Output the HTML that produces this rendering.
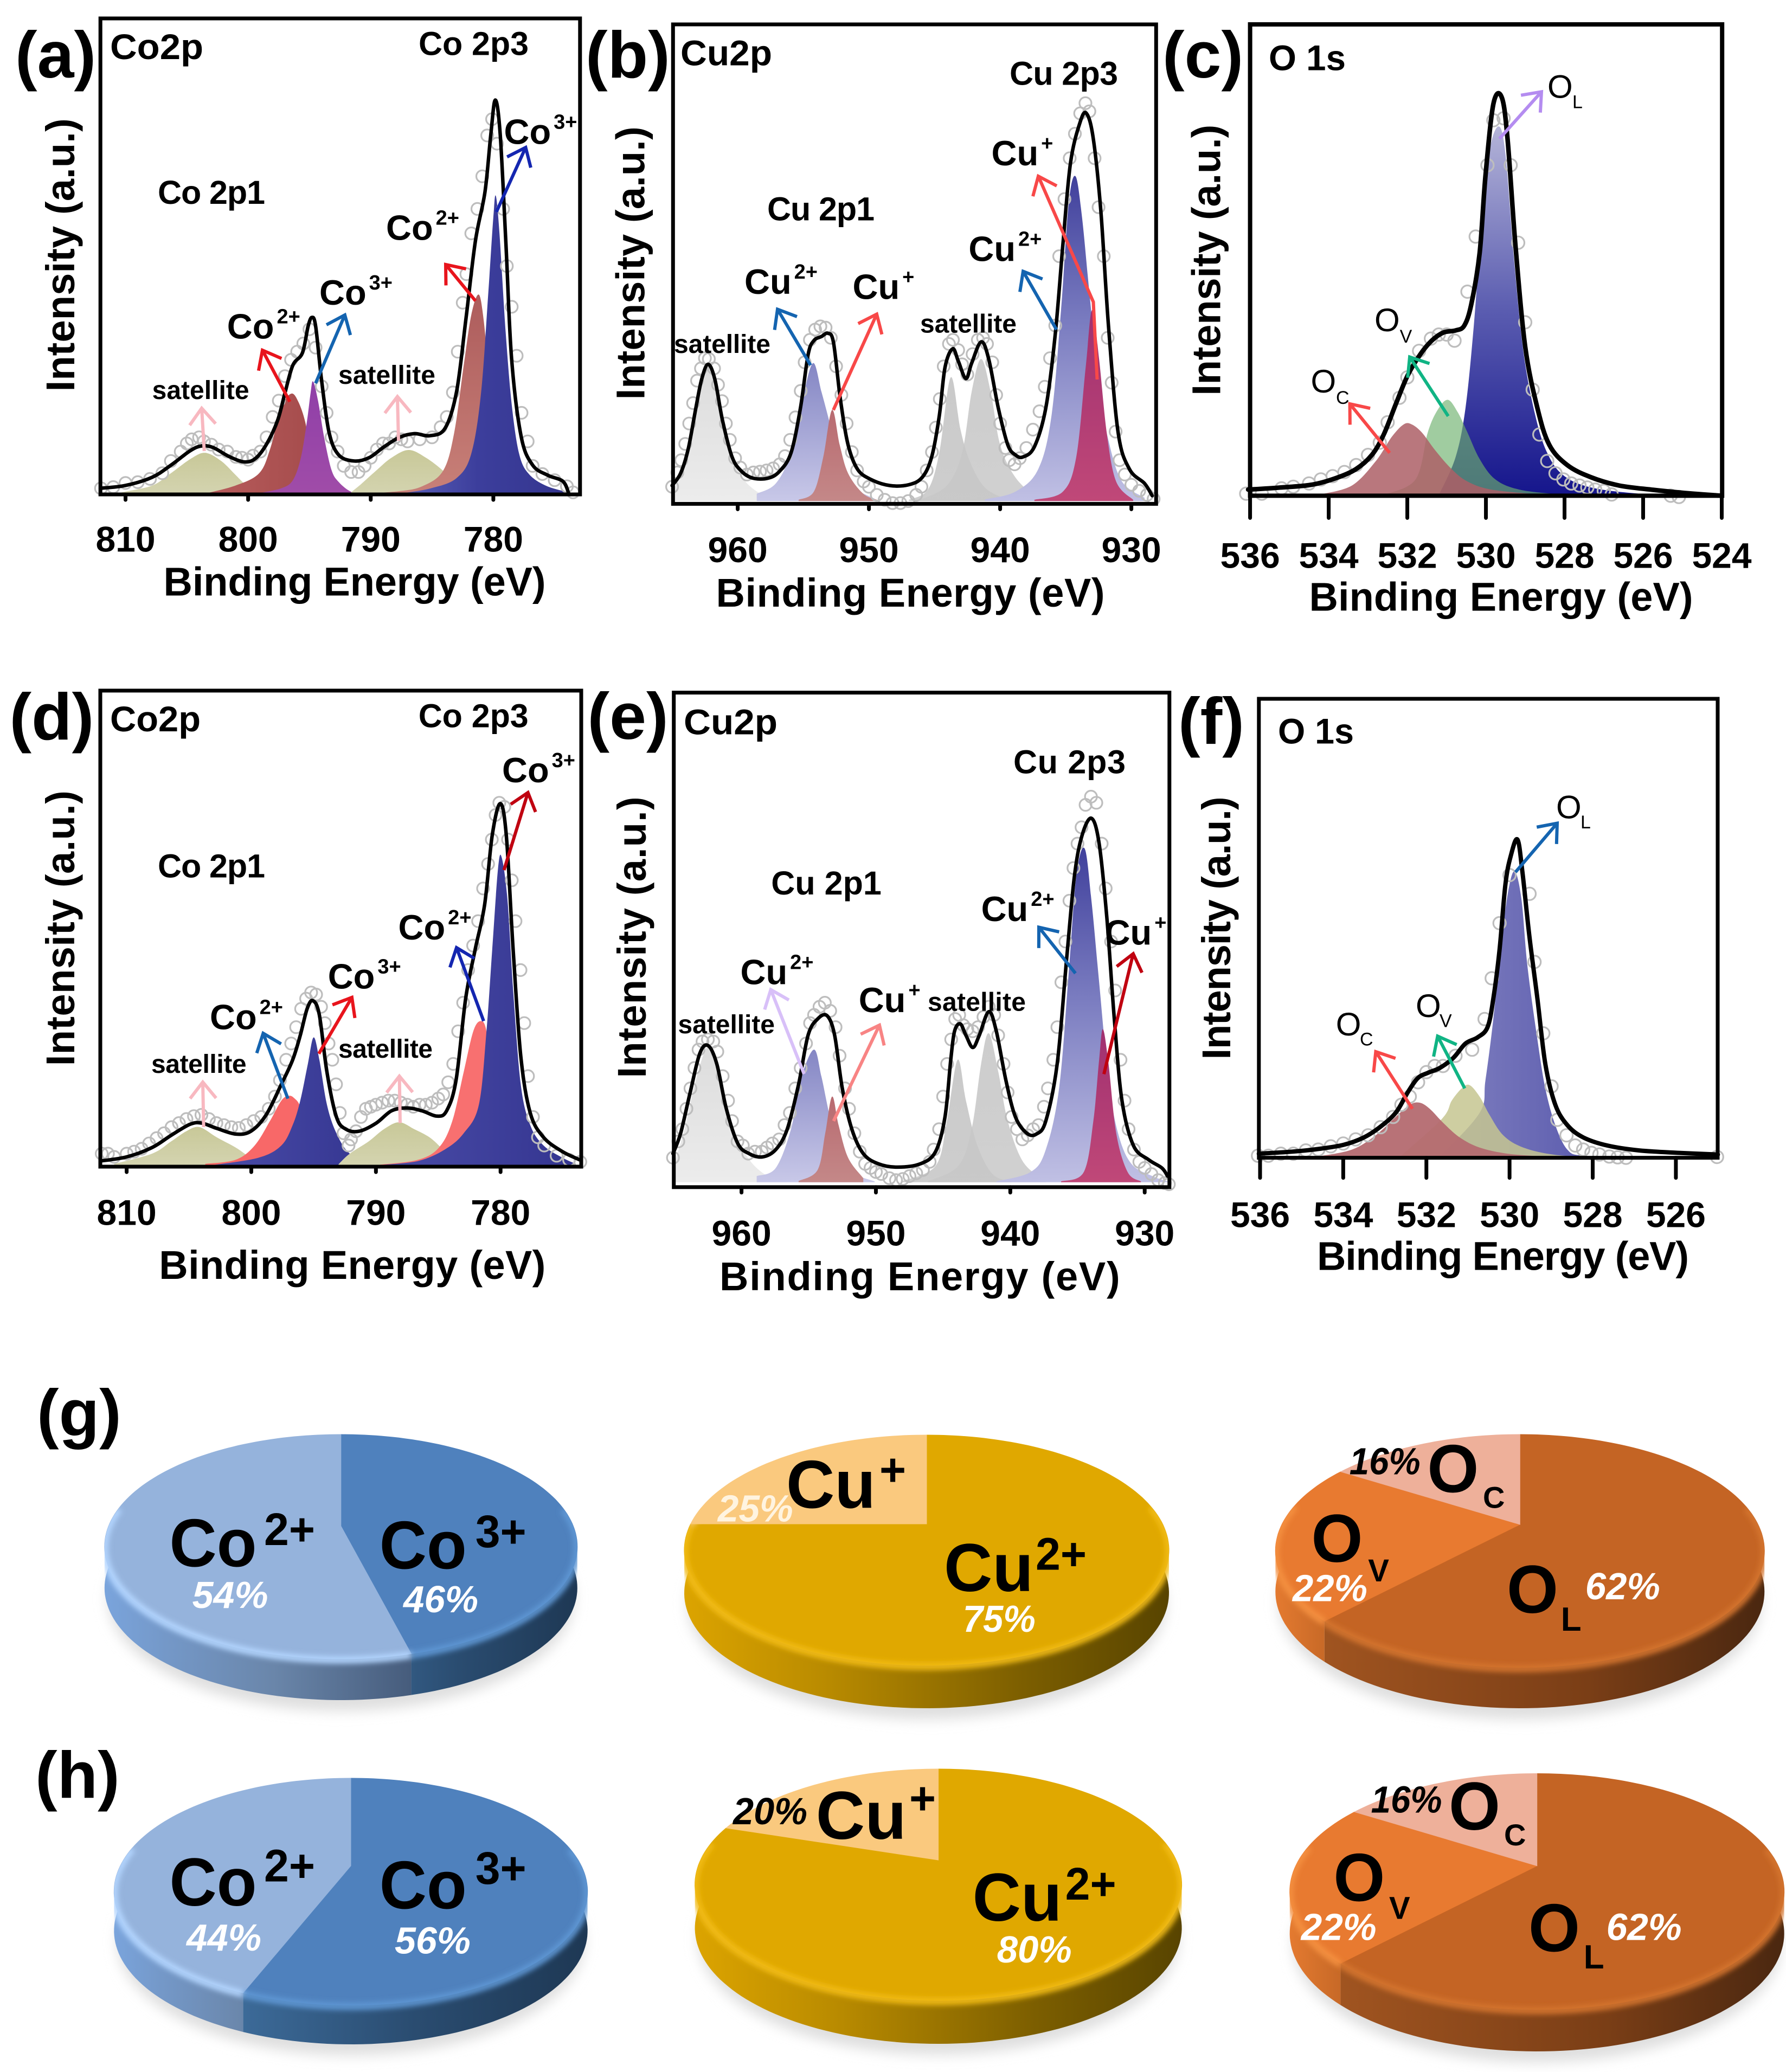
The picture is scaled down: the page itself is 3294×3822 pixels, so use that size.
<!DOCTYPE html>
<html lang="en"><head><meta charset="utf-8"><title>XPS spectra and composition pies</title>
<style>
html,body{margin:0;padding:0;background:#fff}
svg{display:block}
text{font-family:"Liberation Sans",Arial,sans-serif;font-weight:700;fill:#000}
.let{font-size:122px}
.ttl{font-size:66px}
.sub{font-size:61px}
.ion{font-size:65px}
.sat{font-size:48px}
.xt{font-size:74px;text-anchor:middle}
.yt{font-size:74px;text-anchor:middle}
.tk{font-size:66px;text-anchor:middle}
.oxy{font-size:60px;font-weight:400}
.oxs{font-size:34px;font-weight:400}
.pl{font-size:125px}
.ps{font-size:84px}
.pct{font-size:70px;font-style:italic;fill:#fff}
.pctk{font-size:70px;font-style:italic;fill:#000}
.frame{fill:none;stroke:#000;stroke-width:7}
.arr{fill:none;stroke-width:6}
</style></head><body>
<svg id="fig" xmlns="http://www.w3.org/2000/svg" width="3294" height="3822" viewBox="0 0 3294 3822">
<defs>
<marker id="mNavy" markerUnits="userSpaceOnUse" markerWidth="80" markerHeight="80" viewBox="-50 -40 80 80" refX="0" refY="0" orient="auto" overflow="visible"><path d="M-30,-24L0,0L-30,24" fill="none" stroke="#1426b0" stroke-width="6"/></marker>
<marker id="mRed" markerUnits="userSpaceOnUse" markerWidth="80" markerHeight="80" viewBox="-50 -40 80 80" refX="0" refY="0" orient="auto" overflow="visible"><path d="M-30,-24L0,0L-30,24" fill="none" stroke="#e8141c" stroke-width="6"/></marker>
<marker id="mBlue" markerUnits="userSpaceOnUse" markerWidth="80" markerHeight="80" viewBox="-50 -40 80 80" refX="0" refY="0" orient="auto" overflow="visible"><path d="M-30,-24L0,0L-30,24" fill="none" stroke="#1464b0" stroke-width="6"/></marker>
<marker id="mPink" markerUnits="userSpaceOnUse" markerWidth="80" markerHeight="80" viewBox="-50 -40 80 80" refX="0" refY="0" orient="auto" overflow="visible"><path d="M-30,-24L0,0L-30,24" fill="none" stroke="#f8b8c0" stroke-width="6"/></marker>
<marker id="mCoral" markerUnits="userSpaceOnUse" markerWidth="80" markerHeight="80" viewBox="-50 -40 80 80" refX="0" refY="0" orient="auto" overflow="visible"><path d="M-30,-24L0,0L-30,24" fill="none" stroke="#f84848" stroke-width="6"/></marker>
<marker id="mPurple" markerUnits="userSpaceOnUse" markerWidth="80" markerHeight="80" viewBox="-50 -40 80 80" refX="0" refY="0" orient="auto" overflow="visible"><path d="M-30,-24L0,0L-30,24" fill="none" stroke="#b48cf0" stroke-width="6"/></marker>
<marker id="mGreen" markerUnits="userSpaceOnUse" markerWidth="80" markerHeight="80" viewBox="-50 -40 80 80" refX="0" refY="0" orient="auto" overflow="visible"><path d="M-30,-24L0,0L-30,24" fill="none" stroke="#10b484" stroke-width="6"/></marker>
<marker id="mLilac" markerUnits="userSpaceOnUse" markerWidth="80" markerHeight="80" viewBox="-50 -40 80 80" refX="0" refY="0" orient="auto" overflow="visible"><path d="M-30,-24L0,0L-30,24" fill="none" stroke="#d8c0f8" stroke-width="6"/></marker>
<marker id="mSalmon" markerUnits="userSpaceOnUse" markerWidth="80" markerHeight="80" viewBox="-50 -40 80 80" refX="0" refY="0" orient="auto" overflow="visible"><path d="M-30,-24L0,0L-30,24" fill="none" stroke="#f88484" stroke-width="6"/></marker>
<marker id="mDark" markerUnits="userSpaceOnUse" markerWidth="80" markerHeight="80" viewBox="-50 -40 80 80" refX="0" refY="0" orient="auto" overflow="visible"><path d="M-30,-24L0,0L-30,24" fill="none" stroke="#c00010" stroke-width="6"/></marker>

<linearGradient id="gOlive" x1="0" y1="0" x2="0" y2="1"><stop offset="0" stop-color="#c8c898"/><stop offset="1" stop-color="#d4d4b0"/></linearGradient>
<linearGradient id="gBrown" x1="0" y1="0" x2="1" y2="0"><stop offset="0" stop-color="#b85c5c"/><stop offset="1" stop-color="#a04848"/></linearGradient>
<linearGradient id="gPurple" x1="0" y1="0" x2="0" y2="1"><stop offset="0" stop-color="#8f3fa8"/><stop offset="1" stop-color="#a04ca8"/></linearGradient>
<linearGradient id="gBrown2" x1="0" y1="0" x2="0" y2="1"><stop offset="0" stop-color="#ad5c5c"/><stop offset="1" stop-color="#c88078"/></linearGradient>
<linearGradient id="gBlue" x1="0" y1="0" x2="1" y2="0"><stop offset="0" stop-color="#5c60b8"/><stop offset=".45" stop-color="#3c3e9c"/><stop offset="1" stop-color="#34358e"/></linearGradient>
<linearGradient id="gGrayL" x1="0" y1="0" x2="0" y2="1"><stop offset="0" stop-color="#dcdcdc"/><stop offset="1" stop-color="#ececec"/></linearGradient>
<linearGradient id="gGray" x1="0" y1="0" x2="0" y2="1"><stop offset="0" stop-color="#c4c4c4"/><stop offset="1" stop-color="#c8c8c8"/></linearGradient>
<linearGradient id="gLav" x1="0" y1="0" x2="0" y2="1"><stop offset="0" stop-color="#8486c4"/><stop offset="1" stop-color="#c8c8e8"/></linearGradient>
<linearGradient id="gRose" x1="0" y1="0" x2="0" y2="1"><stop offset="0" stop-color="#b86a70"/><stop offset="1" stop-color="#c48888"/></linearGradient>
<linearGradient id="gLavDeep" x1="0" y1="0" x2="0" y2="1"><stop offset="0" stop-color="#40409c"/><stop offset=".45" stop-color="#7a7cc0"/><stop offset="1" stop-color="#c0c0e4"/></linearGradient>
<linearGradient id="gMagenta" x1="0" y1="0" x2="0" y2="1"><stop offset="0" stop-color="#a03070"/><stop offset="1" stop-color="#c04878"/></linearGradient>
<linearGradient id="gOLc" x1="0" y1="0" x2="0" y2="1"><stop offset="0" stop-color="#b4b4d8"/><stop offset=".5" stop-color="#5a5cb0"/><stop offset="1" stop-color="#15158c"/></linearGradient>
<linearGradient id="gOLf" x1="0" y1="0" x2="1" y2="0"><stop offset="0" stop-color="#8080c0"/><stop offset="1" stop-color="#4040a0"/></linearGradient>
<linearGradient id="gNavy" x1="0" y1="0" x2="1" y2="0"><stop offset="0" stop-color="#4a4ca8"/><stop offset="1" stop-color="#343590"/></linearGradient>

<linearGradient id="sideBlueLight" x1="0" y1="0" x2="1" y2="0"><stop offset="0" stop-color="#7aa4dc"/><stop offset=".2" stop-color="#7498c8"/><stop offset=".55" stop-color="#6a86aa"/><stop offset="1" stop-color="#465c7c"/></linearGradient>
<linearGradient id="sideBlueDark" x1="0" y1="0" x2="1" y2="0"><stop offset="0" stop-color="#3c6a98"/><stop offset=".5" stop-color="#2a4c70"/><stop offset="1" stop-color="#1e3854"/></linearGradient>
<linearGradient id="sideGold" x1="0" y1="0" x2="1" y2="0"><stop offset="0" stop-color="#dca400"/><stop offset=".3" stop-color="#b88a00"/><stop offset=".7" stop-color="#7c5e00"/><stop offset="1" stop-color="#584400"/></linearGradient>
<linearGradient id="sideCopper" x1="0" y1="0" x2="1" y2="0"><stop offset="0" stop-color="#a05420"/><stop offset=".6" stop-color="#7a3e16"/><stop offset="1" stop-color="#4a2710"/></linearGradient>
<linearGradient id="sideOrange" x1="0" y1="0" x2="1" y2="0"><stop offset="0" stop-color="#e47a30"/><stop offset="1" stop-color="#bf6424"/></linearGradient>
<linearGradient id="sideNone" x1="0" y1="0" x2="1" y2="0"><stop offset="0" stop-color="#eeb09a"/><stop offset="1" stop-color="#eeb09a"/></linearGradient>
<filter id="soft" x="-30%" y="-30%" width="160%" height="160%"><feGaussianBlur stdDeviation="5"/></filter>
<filter id="shadowBlur" x="-20%" y="-20%" width="140%" height="140%"><feGaussianBlur stdDeviation="12"/></filter>
</defs>

<rect width="3294" height="3822" fill="#fff"/>

<!-- PANEL A -->
<g>
<g id="marks-a"></g>
<rect class="frame" x="185.2" y="34" width="884.6" height="878"/>
<text class="let" x="28" y="143">(a)</text>
<text class="ttl" x="203" y="109" textLength="172" lengthAdjust="spacingAndGlyphs">Co2p</text>
<text class="sub" x="772" y="101.6" textLength="203">Co 2p3</text>
<text class="sub" x="291" y="376" textLength="198">Co 2p1</text>
<text class="ion" x="418.8" y="624.6">Co<tspan dx="5" dy="-28" font-size="38">2+</tspan></text>
<text class="ion" x="589" y="562">Co<tspan dx="5" dy="-28" font-size="38">3+</tspan></text>
<text class="ion" x="712" y="442.5">Co<tspan dx="5" dy="-28" font-size="38">2+</tspan></text>
<text class="ion" x="929.5" y="265.6">Co<tspan dx="5" dy="-28" font-size="38">3+</tspan></text>
<text class="sat" x="280.6" y="736" textLength="179">satellite</text>
<text class="sat" x="624" y="708" textLength="179">satellite</text>
<path class="arr" stroke="#1426b0" marker-end="url(#mNavy)" d="M915.5,391L969.5,272"/>
<path class="arr" stroke="#e8141c" marker-end="url(#mRed)" d="M877,555L822,488"/>
<path class="arr" stroke="#1464b0" marker-end="url(#mBlue)" d="M582,707L636,581"/>
<path class="arr" stroke="#e8141c" marker-end="url(#mRed)" d="M534.5,741L484,646"/>
<path class="arr" stroke="#f8b8c0" marker-end="url(#mPink)" d="M376.7,832L372,753"/>
<path class="arr" stroke="#f8b8c0" marker-end="url(#mPink)" d="M735,813L733,731.5"/>
<text class="xt" x="654" y="1098.7" textLength="705">Binding Energy (eV)</text>
<text class="yt" transform="translate(137,470.4) rotate(-90)" textLength="504">Intensity (a.u.)</text>
</g>

<!-- PANEL B -->
<g>
<g id="marks-b"></g>
<rect class="frame" x="1241.3" y="45" width="891" height="884.4"/>
<text class="let" x="1080" y="143">(b)</text>
<text class="ttl" x="1255" y="120.4" textLength="169" lengthAdjust="spacingAndGlyphs">Cu2p</text>
<text class="sub" x="1862" y="156.5" textLength="200">Cu 2p3</text>
<text class="sub" x="1415" y="406.4" textLength="198">Cu 2p1</text>
<text class="ion" x="1373" y="541.8">Cu<tspan dx="5" dy="-28" font-size="38">2+</tspan></text>
<text class="ion" x="1572.5" y="551.6">Cu<tspan dx="5" dy="-28" font-size="38">+</tspan></text>
<text class="ion" x="1828.5" y="304.8">Cu<tspan dx="5" dy="-28" font-size="38">+</tspan></text>
<text class="ion" x="1786.4" y="481.6">Cu<tspan dx="5" dy="-28" font-size="38">2+</tspan></text>
<text class="sat" x="1243" y="651" textLength="178">satellite</text>
<text class="sat" x="1697" y="613.4" textLength="178">satellite</text>
<path class="arr" stroke="#1464b0" marker-end="url(#mBlue)" d="M1495,673.6L1434,570.5"/>
<path class="arr" stroke="#f84848" marker-end="url(#mCoral)" d="M1537,756.3L1617,579.5"/>
<path class="arr" stroke="#1464b0" marker-end="url(#mBlue)" d="M1948.5,608L1887,500.5"/>
<path class="arr" stroke="#f84848" marker-end="url(#mCoral)" d="M2023.5,700L2016.5,557L1915,325"/>
<text class="xt" x="1679" y="1119" textLength="717">Binding Energy (eV)</text>
<text class="yt" transform="translate(1188.7,485.4) rotate(-90)" textLength="504">Intensity (a.u.)</text>
</g>

<!-- PANEL C -->
<g>
<g id="marks-c"></g>
<rect class="frame" style="stroke-width:8" x="2305.6" y="45" width="870.6" height="869.4"/>
<text class="let" x="2144" y="143">(c)</text>
<text class="ttl" x="2340" y="129.4" textLength="142" lengthAdjust="spacingAndGlyphs">O 1s</text>
<text class="oxy" x="2854" y="180.6">O</text><text class="oxs" x="2900" y="199.4">L</text>
<text class="oxy" x="2535" y="611">O</text><text class="oxs" x="2581.6" y="632">V</text>
<text class="oxy" x="2417.5" y="724">O</text><text class="oxs" x="2464" y="745">C</text>
<path class="arr" stroke="#b48cf0" marker-end="url(#mPurple)" d="M2765.5,255.9L2843,169.3"/>
<path class="arr" stroke="#10b484" marker-end="url(#mGreen)" d="M2671,767.6L2600,658.5"/>
<path class="arr" stroke="#f84848" marker-end="url(#mCoral)" d="M2563,835.4L2489.6,745"/>
<text class="xt" x="2768.5" y="1126.6" textLength="708">Binding Energy (eV)</text>
<text class="yt" transform="translate(2250.4,479.8) rotate(-90)" textLength="500">Intensity (a.u.)</text>
</g>

<!-- PANEL D -->
<g>
<g id="marks-d"></g>
<rect class="frame" x="185" y="1273.9" width="887" height="878.1"/>
<text class="let" x="17.5" y="1364">(d)</text>
<text class="ttl" x="203" y="1349" textLength="167" lengthAdjust="spacingAndGlyphs">Co2p</text>
<text class="sub" x="771.7" y="1341.6" textLength="203">Co 2p3</text>
<text class="sub" x="291" y="1618.5" textLength="198">Co 2p1</text>
<text class="ion" x="387" y="1898.5">Co<tspan dx="5" dy="-28" font-size="38">2+</tspan></text>
<text class="ion" x="604.7" y="1823.3">Co<tspan dx="5" dy="-28" font-size="38">3+</tspan></text>
<text class="ion" x="734.5" y="1733">Co<tspan dx="5" dy="-28" font-size="38">2+</tspan></text>
<text class="ion" x="926" y="1443.2">Co<tspan dx="5" dy="-28" font-size="38">3+</tspan></text>
<text class="sat" x="279" y="1979" textLength="175.6">satellite</text>
<text class="sat" x="624" y="1951" textLength="174">satellite</text>
<path class="arr" stroke="#c00010" marker-end="url(#mDark)" d="M929.5,1605L973.7,1462"/>
<path class="arr" stroke="#e8141c" marker-end="url(#mRed)" d="M588,1943.7L649,1839.8"/>
<path class="arr" stroke="#1426b0" marker-end="url(#mNavy)" d="M892,1883.4L842,1748"/>
<path class="arr" stroke="#1464b0" marker-end="url(#mBlue)" d="M531,2026.5L485.4,1906"/>
<path class="arr" stroke="#f8b8c0" marker-end="url(#mPink)" d="M375.6,2079L374,1996"/>
<path class="arr" stroke="#f8b8c0" marker-end="url(#mPink)" d="M738,2071.6L736.6,1985"/>
<text class="xt" x="649.8" y="2359" textLength="713">Binding Energy (eV)</text>
<text class="yt" transform="translate(137,1712.2) rotate(-90)" textLength="508">Intensity (a.u.)</text>
</g>

<!-- PANEL E -->
<g>
<g id="marks-e"></g>
<rect class="frame" x="1242.7" y="1277.6" width="914.1" height="912.2"/>
<text class="let" x="1083.5" y="1363">(e)</text>
<text class="ttl" x="1261" y="1354.4" textLength="173" lengthAdjust="spacingAndGlyphs">Cu2p</text>
<text class="sub" x="1869" y="1426.6" textLength="207">Cu 2p3</text>
<text class="sub" x="1422.3" y="1650" textLength="203.5">Cu 2p1</text>
<text class="ion" x="1365.5" y="1815.7">Cu<tspan dx="5" dy="-28" font-size="38">2+</tspan></text>
<text class="ion" x="1583.7" y="1867">Cu<tspan dx="5" dy="-28" font-size="38">+</tspan></text>
<text class="ion" x="1809.6" y="1699">Cu<tspan dx="5" dy="-28" font-size="38">2+</tspan></text>
<text class="ion" x="2037.6" y="1742.7">Cu<tspan dx="5" dy="-28" font-size="38">+</tspan></text>
<text class="sat" x="1250.5" y="1906" textLength="178.5">satellite</text>
<text class="sat" x="1711" y="1864.7" textLength="181">satellite</text>
<path class="arr" stroke="#d8c0f8" marker-end="url(#mLilac)" d="M1483,1981L1421.6,1825.5"/>
<path class="arr" stroke="#f88484" marker-end="url(#mSalmon)" d="M1537.4,2067.8L1622,1891"/>
<path class="arr" stroke="#1464b0" marker-end="url(#mBlue)" d="M1983.5,1795.4L1916,1710.4"/>
<path class="arr" stroke="#c00010" marker-end="url(#mDark)" d="M2036,1981.3L2090,1759.3"/>
<text class="xt" x="1696.3" y="2380" textLength="738.6">Binding Energy (eV)</text>
<text class="yt" transform="translate(1190.8,1729) rotate(-90)" textLength="519">Intensity (a.u.)</text>
</g>

<!-- PANEL F -->
<g>
<g id="marks-f"></g>
<rect class="frame" x="2321.8" y="1289" width="846.2" height="846.6"/>
<text class="let" x="2173" y="1372">(f)</text>
<text class="ttl" x="2357" y="1371.7" textLength="140" lengthAdjust="spacingAndGlyphs">O 1s</text>
<text class="oxy" x="2870" y="1509.4">O</text><text class="oxs" x="2915" y="1528.2">L</text>
<text class="oxy" x="2611" y="1876">O</text><text class="oxs" x="2655" y="1894.7">V</text>
<text class="oxy" x="2463.8" y="1909.8">O</text><text class="oxs" x="2508" y="1928.6">C</text>
<path class="arr" stroke="#1464b0" marker-end="url(#mBlue)" d="M2795,1608.8L2872,1518.5"/>
<path class="arr" stroke="#10b484" marker-end="url(#mGreen)" d="M2701.5,2007.6L2651.5,1911.3"/>
<path class="arr" stroke="#f84848" marker-end="url(#mCoral)" d="M2605,2045.3L2537.4,1939.9"/>
<text class="xt" x="2772" y="2342.5" textLength="686">Binding Energy (eV)</text>
<text class="yt" transform="translate(2268.8,1712) rotate(-90)" textLength="485">Intensity (a.u.)</text>
</g>

<!-- PIES -->
<g id="pies"></g>
<g>
<text class="let" x="68" y="2648">(g)</text>
<text class="let" x="65" y="3316">(h)</text>

<text class="pl" x="312.5" y="2889.5" textLength="161" lengthAdjust="spacingAndGlyphs">Co</text><text class="ps" x="487" y="2850" textLength="94" lengthAdjust="spacingAndGlyphs">2+</text>
<text class="pct" x="354.6" y="2966" textLength="140" lengthAdjust="spacingAndGlyphs">54%</text>
<text class="pl" x="699.8" y="2893.7" textLength="161" lengthAdjust="spacingAndGlyphs">Co</text><text class="ps" x="876.7" y="2853.8" textLength="94" lengthAdjust="spacingAndGlyphs">3+</text>
<text class="pct" x="744" y="2974" textLength="138" lengthAdjust="spacingAndGlyphs">46%</text>

<text class="pl" x="1450" y="2781.6" textLength="165" lengthAdjust="spacingAndGlyphs">Cu</text><text class="ps" x="1622" y="2740">+</text>
<text class="pct" style="fill:#fff4e0" x="1323.8" y="2806.5" textLength="139" lengthAdjust="spacingAndGlyphs">25%</text>
<text class="pl" x="1741" y="2935" textLength="165" lengthAdjust="spacingAndGlyphs">Cu</text><text class="ps" x="1910" y="2895.3" textLength="94" lengthAdjust="spacingAndGlyphs">2+</text>
<text class="pct" x="1775.8" y="3010" textLength="134" lengthAdjust="spacingAndGlyphs">75%</text>

<text class="pl" x="2632.4" y="2752.5" textLength="95" lengthAdjust="spacingAndGlyphs">O</text><text font-size="56" x="2735" y="2781.6">C</text>
<text class="pctk" x="2488.7" y="2719.3" textLength="131" lengthAdjust="spacingAndGlyphs">16%</text>
<text class="pl" x="2418.5" y="2881.2" textLength="95" lengthAdjust="spacingAndGlyphs">O</text><text font-size="58" x="2523.3" y="2916.9">V</text>
<text class="pct" x="2383.9" y="2953.5" textLength="138" lengthAdjust="spacingAndGlyphs">22%</text>
<text class="pl" x="2779" y="2975" textLength="95" lengthAdjust="spacingAndGlyphs">O</text><text font-size="62" x="2878.8" y="3008">L</text>
<text class="pct" x="2923.8" y="2950" textLength="138" lengthAdjust="spacingAndGlyphs">62%</text>

<text class="pl" x="312.5" y="3514.8" textLength="161" lengthAdjust="spacingAndGlyphs">Co</text><text class="ps" x="487" y="3470.7" textLength="94" lengthAdjust="spacingAndGlyphs">2+</text>
<text class="pct" x="344" y="3597.8" textLength="138" lengthAdjust="spacingAndGlyphs">44%</text>
<text class="pl" x="699.8" y="3520.6" textLength="161" lengthAdjust="spacingAndGlyphs">Co</text><text class="ps" x="876.7" y="3475" textLength="94" lengthAdjust="spacingAndGlyphs">3+</text>
<text class="pct" x="728" y="3603.6" textLength="140" lengthAdjust="spacingAndGlyphs">56%</text>

<text class="pl" x="1504.8" y="3391.9" textLength="167" lengthAdjust="spacingAndGlyphs">Cu</text><text class="ps" x="1677" y="3346">+</text>
<text class="pctk" x="1352" y="3365" textLength="137" lengthAdjust="spacingAndGlyphs">20%</text>
<text class="pl" x="1793.6" y="3543" textLength="165" lengthAdjust="spacingAndGlyphs">Cu</text><text class="ps" x="1964.6" y="3504" textLength="94" lengthAdjust="spacingAndGlyphs">2+</text>
<text class="pct" x="1838.7" y="3620" textLength="138" lengthAdjust="spacingAndGlyphs">80%</text>

<text class="pl" x="2672" y="3375" textLength="95" lengthAdjust="spacingAndGlyphs">O</text><text font-size="56" x="2774" y="3404">C</text>
<text class="pctk" x="2528.6" y="3343.7" textLength="131" lengthAdjust="spacingAndGlyphs">16%</text>
<text class="pl" x="2459.4" y="3506.5" textLength="95" lengthAdjust="spacingAndGlyphs">O</text><text font-size="58" x="2562" y="3539.7">V</text>
<text class="pct" x="2399.6" y="3578.7" textLength="139" lengthAdjust="spacingAndGlyphs">22%</text>
<text class="pl" x="2819" y="3599.5" textLength="95" lengthAdjust="spacingAndGlyphs">O</text><text font-size="62" x="2920.7" y="3631">L</text>
<text class="pct" x="2962.6" y="3578.7" textLength="139" lengthAdjust="spacingAndGlyphs">62%</text>
</g>
</svg>

<script>
/* ---------- tick labels ---------- */
const aTicks=[810,800,790,780];
const bTicks=[960,950,940,930];
const cTicks=[536,534,532,530,528,526,524];
const dTicks=[810,800,790,780];
const eTicks=[960,950,940,930];
const fTicks=[536,534,532,530,528,526];

/* ---------- panel a: [binding energy eV, intensity a.u.] ---------- */
const aFit=[[812.05,15],[810,22],[807.83,42],[806.28,72],[804.73,107],[803.79,119],[802.86,115],[801.62,94],[800.38,80],[799.45,87],[798.52,122],[797.59,182],[796.97,252],[796.35,317],[795.57,347],[795.11,412],[794.8,434],[794.49,412],[794.02,282],[793.4,152],[792.62,97],[791.38,82],[790.14,90],[788.9,117],[787.66,140],[786.42,149],[785.18,144],[783.94,162],[783,252],[782.23,432],[781.46,622],[780.68,742],[780.21,882],[779.84,967],[779.44,882],[778.97,612],[778.51,332],[777.73,142],[776.8,72],[775.56,47],[774.32,32],[773.85,2]];
const aSat1=[[810.9,2],[810,7],[807.8,22],[806.3,52],[804.7,87],[803.5,102],[802.2,82],[801,47],[800.1,22],[798.8,5]];
const aCo2Low=[[803.5,2],[801,22],[799.1,52],[798.2,112],[797.3,212],[796.5,247],[795.9,227],[795.3,172],[795,100],[794.5,60],[793.6,20],[792.3,3]];
const aCo3Low=[[799.1,3],[797.3,15],[796.35,35],[795.7,90],[795.2,180],[794.9,250],[794.7,277],[794.3,230],[793.8,140],[793.2,60],[792.6,30],[791.7,8],[790.8,0]];
const aSat2=[[791.7,3],[790.8,25],[789.5,60],[788.3,90],[786.9,109],[785.5,90],[784.1,58],[783,25],[781.1,3]];
const aCo2High=[[790.8,1],[787.7,8],[785.8,20],[784.1,58],[783.2,150],[782.4,320],[781.8,440],[781.2,490],[780.8,430],[780.4,300],[779.9,120],[779,40],[776.8,5]];
const aCo3High=[[787.7,2],[785.1,15],[783,40],[781.8,100],[781,250],[780.4,500],[780,680],[779.8,732],[779.5,640],[779,400],[778.5,220],[777.9,100],[777.1,50],[775.6,20],[773.4,2]];
const aRaw=[[812,15],[811,18],[810,28],[809,30],[808,38],[807,52],[806.3,82],[805.5,105],[805,125],[804.6,135],[804,140],[803.6,130],[803,122],[802.4,110],[801.7,105],[801,92],[800.5,90],[800,85],[799.6,95],[799,105],[798.5,140],[798,190],[797.5,230],[797,290],[796.5,330],[796,350],[795.5,370],[795,405],[794.5,360],[794,265],[793.6,200],[793.2,140],[792.7,105],[792.2,70],[791.6,55],[791,55],[790.5,70],[790,90],[789.5,110],[789,125],[788.5,125],[788,140],[787.5,135],[787,130],[786,135],[785,140],[784.3,165],[783.8,190],[783.3,250],[782.9,350],[782.5,470],[782.2,540],[781.8,640],[781.3,700],[780.9,780],[780.5,880],[780.1,920],[779.7,860],[779.2,700],[778.9,560],[778.5,460],[778.1,340],[777.7,200],[777.2,130],[776.8,70],[776,50],[775,35],[774,20],[773.5,5]];

/* ---------- panel b ---------- */
const bFit=[[965,38],[964.35,68],[963.77,128],[963.19,228],[962.75,298],[962.26,335],[961.74,298],[961.16,198],[960.43,108],[959.71,73],[958.84,56],[957.68,56],[956.81,73],[955.94,118],[955.22,228],[954.64,358],[954.2,393],[953.62,403],[953.13,411],[952.7,388],[952.17,248],[951.59,138],[950.87,78],[949.86,53],[948.41,38],[946.96,40],[945.94,58],[945.22,108],[944.64,208],[944.2,328],[943.62,373],[943.19,343],[942.61,300],[942.17,338],[941.45,390],[940.87,348],[940.14,228],[939.42,138],[938.84,113],[938.26,108],[937.39,133],[936.52,228],[935.8,408],[935.22,628],[934.64,828],[933.91,928],[933.42,950],[932.9,888],[932.32,708],[931.74,428],[931.01,168],[930.14,78],[928.99,43],[928.41,13]];
const bSat1=[[965,20],[964.87,28],[964.06,98],[963.19,228],[962.26,333],[961.3,208],[960.43,108],[959.42,48],[957.97,13],[956.52,2]];
const bCu2Low=[[958.55,18],[957.1,43],[955.94,118],[955.07,248],[954.26,338],[953.62,268],[953.04,198],[952.32,108],[951.3,38],[949.57,6]];
const bCu1Low=[[955.36,3],[954.2,23],[953.48,108],[952.81,223],[952.23,138],[951.59,68],[950.43,18],[949.28,2]];
const bSat2=[[946.96,3],[945.51,28],[944.64,118],[943.77,303],[943.04,178],[942.32,98],[941.16,33],[939.42,3]];
const bSat3=[[946.09,3],[944.06,38],[942.9,118],[942.17,268],[941.45,348],[940.72,268],[940,138],[938.84,58],[937.1,3]];
const bCu2High=[[941.16,4],[938.84,23],[937.1,78],[936.09,208],[935.36,468],[934.78,728],[934.26,796],[933.77,698],[933.19,508],[932.46,278],[931.74,148],[930.72,48],[928.99,8]];
const bCu1High=[[937.39,3],[935.22,23],[934.2,108],[933.48,328],[932.99,468],[932.46,348],[931.88,168],[931.16,48],[929.86,3]];
const bRaw=[[965,35],[964.6,70],[964.3,100],[964,140],[963.7,190],[963.4,240],[963.1,295],[962.8,325],[962.5,350],[962.2,348],[961.8,325],[961.5,285],[961.2,245],[960.9,190],[960.6,150],[960.2,105],[959.8,82],[959.3,65],[958.8,70],[958.3,72],[957.8,75],[957.3,80],[956.8,90],[956.4,110],[956,150],[955.6,205],[955.2,270],[954.9,340],[954.5,395],[954.1,420],[953.7,428],[953.3,425],[952.9,400],[952.5,330],[952.1,260],[951.7,190],[951.3,120],[950.9,75],[950.4,48],[950,35],[949.4,15],[948.8,3],[948.2,-5],[947.6,-5],[947,0],[946.4,15],[946,35],[945.6,75],[945.2,120],[944.9,180],[944.6,250],[944.3,330],[943.9,385],[943.6,395],[943.2,370],[942.9,335],[942.5,310],[942.1,360],[941.7,395],[941.3,400],[941,385],[940.6,340],[940.3,260],[940,190],[939.6,130],[939.3,100],[938.9,90],[938.5,105],[938,130],[937.5,175],[937,220],[936.6,280],[936.2,350],[935.8,430],[935.5,600],[935.1,740],[934.7,840],[934.3,900],[933.9,950],[933.5,975],[933.2,955],[932.8,840],[932.5,720],[932.1,600],[931.8,400],[931.5,290],[931.2,170],[930.9,100],[930.5,65],[930,40],[929.4,25],[928.8,15],[928.3,5]];

/* ---------- panel c ---------- */
const cFit=[[536.05,15],[535.24,20],[534.43,27],[533.82,43],[533.31,65],[532.9,100],[532.6,150],[532.29,225],[531.99,295],[531.68,345],[531.38,380],[531.08,400],[530.77,405],[530.55,417],[530.37,470],[530.16,595],[530.01,785],[529.81,960],[529.6,977],[529.45,875],[529.25,615],[529,365],[528.69,215],[528.39,125],[527.93,75],[527.32,45],[526.61,25],[525.8,15],[524.98,7],[524.02,0]];
const cOL=[[531.18,5],[530.77,95],[530.52,215],[530.31,415],[530.11,665],[529.91,845],[529.67,905],[529.5,835],[529.3,595],[529.05,355],[528.74,195],[528.44,105],[528.03,50],[527.32,20],[526.1,5],[524.88,1]];
const cOV=[[532.6,2],[531.79,40],[531.48,155],[531.23,210],[530.97,235],[530.72,205],[530.47,155],[530.16,90],[529.76,40],[529.15,15],[528.13,3]];
const cOC=[[534.22,3],[533.41,25],[532.8,85],[532.39,145],[532.09,175],[531.89,175],[531.63,155],[531.28,110],[530.87,65],[530.47,35],[529.86,15],[528.64,3]];
const cRaw=[[536.1,5],[535.7,5],[535.2,18],[534.9,22],[534.5,30],[534.2,40],[533.9,48],[533.6,58],[533.3,75],[533,100],[532.7,130],[532.5,180],[532.2,240],[532,290],[531.7,355],[531.4,385],[531.2,395],[531,395],[530.8,380],[530.47,500],[530.26,635],[529.96,810],[529.81,920],[529.55,925],[529.37,810],[529.18,620],[529,425],[528.81,260],[528.64,150],[528.44,85],[528.23,55],[528.03,40],[527.83,30],[527.62,25],[527.42,20],[527.22,15],[527,12],[526.8,3],[525.3,0],[525.09,-3]];

/* ---------- panel d ---------- */
const dFit=[[812.1,12],[810,22],[807.96,45],[806.43,75],[804.91,102],[803.99,105],[802.77,92],[801.25,78],[800.03,85],[798.81,125],[797.59,200],[796.68,260],[796.07,320],[795.52,385],[795.06,405],[794.54,370],[793.93,230],[793.17,120],[792.41,90],[791.34,85],[789.97,105],[788.75,135],[787.53,142],[786.31,135],[785.09,122],[784.33,135],[783.57,210],[782.8,410],[782.04,530],[781.28,640],[780.67,810],[780.03,888],[779.54,810],[778.99,530],[778.38,270],[777.62,130],[776.55,70],[775.03,35],[773.66,15]];
const dSat1=[[811,5],[807.96,30],[806.43,60],[805.21,85],[804.15,95],[802.77,70],[801.25,45],[800.03,20],[798.81,5]];
const dCo2Low=[[803.69,5],[801.25,15],[799.73,50],[798.5,110],[797.59,160],[796.98,172],[796.52,165],[796.07,145],[795.46,80],[794.24,20]];
const dCo3Low=[[803.08,2],[799.42,20],[797.59,50],[796.68,100],[796.07,160],[795.46,250],[795,315],[794.54,260],[793.93,150],[793.17,80],[792.1,30],[790.27,5]];
const dSat2=[[793,4],[792.1,30],[790.58,60],[789.36,90],[788.14,107],[786.92,90],[785.7,70],[784.79,45],[783.57,5]];
const dCo2High=[[789.66,3],[786.62,15],[784.94,45],[783.87,110],[782.96,230],[782.19,330],[781.59,355],[781.13,330],[780.67,210],[779.9,60],[778.07,5]];
const dCo3High=[[789.66,2],[786.62,12],[784.48,40],[782.96,80],[781.74,150],[781.13,330],[780.67,530],[780.2,730],[779.9,755],[779.44,650],[778.99,430],[778.38,200],[777.62,100],[776.55,50],[775.03,20],[773.96,5]];
const dRaw=[[812,30],[811.5,30],[811,22],[810,30],[809.4,35],[808.8,42],[808.2,55],[807.6,68],[807,80],[806.4,95],[805.8,105],[805.2,115],[804.6,122],[804,125],[803.4,115],[802.8,105],[802.2,100],[801.6,95],[801,93],[800.4,100],[799.8,110],[799.2,120],[798.6,140],[798.1,170],[797.7,210],[797.2,260],[796.8,300],[796.4,340],[796,385],[795.6,410],[795.2,425],[794.8,420],[794.4,390],[794.1,350],[793.8,300],[793.5,260],[793.2,200],[792.9,130],[792.6,80],[792.2,50],[792,65],[791.6,85],[791.2,120],[790.8,140],[790.4,145],[790,150],[789.5,155],[789,160],[788.5,160],[788,155],[787.5,150],[787,145],[786.5,150],[786,150],[785.5,155],[785,165],[784.6,175],[784.2,205],[783.8,250],[783.4,330],[783,400],[782.6,480],[782.2,540],[781.8,600],[781.4,680],[781,740],[780.7,800],[780.4,860],[780.1,890],[779.7,880],[779.4,800],[779.1,700],[778.8,600],[778.4,480],[778.1,350],[777.8,220],[777.4,120],[777,70],[776.5,50],[775.5,25],[774.5,15],[773.6,10]];

/* ---------- panel e ---------- */
const eFit=[[965.1,70],[964.53,120],[963.82,220],[963.11,315],[962.49,335],[961.84,290],[961.13,180],[960.28,95],[959.43,70],[958.44,62],[957.45,80],[956.6,130],[955.75,240],[955.05,360],[954.34,400],[953.63,408],[953.07,360],[952.5,230],[951.79,130],[950.94,70],[949.81,45],[948.4,37],[946.7,45],[945.56,75],[944.86,160],[944.43,300],[944.15,370],[943.72,388],[943.3,360],[942.79,330],[942.31,360],[941.6,418],[941.04,370],[940.33,250],[939.62,160],[938.77,120],[938.06,118],[937.36,150],[936.51,290],[935.8,550],[935.23,750],[934.66,850],[933.96,892],[933.39,830],[932.82,650],[932.26,400],[931.69,200],[930.84,90],[929.7,55],[928.72,35],[928.3,15]];
const eSat1=[[965,45],[964.25,130],[963.4,250],[962.49,332],[961.7,270],[960.85,160],[959.72,70],[958.3,20],[956.6,2]];
const eCu2Low=[[958.87,15],[957.45,35],[956.32,130],[955.61,250],[954.62,325],[954.06,260],[953.49,170],[952.78,80],[951.79,25],[950.09,2]];
const eCu1Low=[[955.75,3],[954.34,30],[953.77,120],[953.26,210],[952.78,140],[952.07,60],[950.94,10]];
const eSat2=[[948.11,2],[945.56,40],[944.72,150],[943.92,300],[943.3,200],[942.45,90],[941.32,20],[939.9,1]];
const eSat3=[[946.13,2],[943.87,40],[942.88,130],[942.17,290],[941.6,365],[940.89,270],[940.19,150],[939.05,50],[937.36,2]];
const eCu2High=[[941.04,2],[938.49,25],[937.36,80],[936.37,230],[935.66,510],[935.09,750],[934.47,818],[933.96,690],[933.39,490],[932.69,250],[931.98,120],[930.99,45],[929.43,15],[928.3,2]];
const eCu1High=[[936.22,2],[934.53,25],[933.82,150],[933.39,300],[933.11,375],[932.69,290],[932.12,120],[931.27,25],[930.28,2]];
const eRaw=[[965.1,60],[964.7,100],[964.4,130],[964.1,180],[963.8,230],[963.5,280],[963.2,325],[962.9,345],[962.5,350],[962.1,345],[961.8,320],[961.4,260],[961,200],[960.7,150],[960.3,100],[959.9,90],[959.5,70],[959,75],[958.5,75],[958.1,85],[957.7,95],[957.2,105],[956.8,140],[956.4,170],[956,230],[955.6,280],[955.2,340],[954.9,390],[954.6,410],[954.2,430],[953.8,440],[953.4,420],[953,380],[952.7,310],[952.3,230],[952,180],[951.6,120],[951.2,75],[950.8,45],[950.4,35],[950,25],[949.6,20],[949,10],[948.5,5],[948,8],[947.5,15],[947,22],[946.5,30],[946,50],[945.7,80],[945.3,130],[945,210],[944.7,290],[944.4,350],[944.1,400],[943.8,410],[943.5,385],[943.2,375],[942.8,370],[942.4,380],[942,405],[941.6,430],[941.2,410],[940.9,360],[940.5,290],[940.2,220],[939.9,160],[939.5,130],[939.1,105],[938.7,115],[938.3,130],[937.9,140],[937.5,185],[937.2,230],[936.8,300],[936.5,380],[936.2,490],[935.9,590],[935.6,690],[935.3,770],[935,830],[934.7,870],[934.4,925],[934,945],[933.6,930],[933.2,830],[932.9,720],[932.5,590],[932.2,470],[931.8,300],[931.5,200],[931.2,130],[930.8,80],[930.4,50],[930,35],[929.5,20],[929,5],[928.5,-2],[928.2,-5]];

/* ---------- panel f ---------- */
const fFit=[[536.03,10],[535.23,15],[534.56,22],[533.98,32],[533.5,50],[533.12,75],[532.74,110],[532.45,160],[532.21,195],[531.97,208],[531.68,220],[531.35,245],[531.06,280],[530.77,295],[530.53,320],[530.39,390],[530.24,510],[530.1,670],[529.97,740],[529.81,780],[529.69,700],[529.52,540],[529.33,390],[529.14,230],[528.9,130],[528.61,80],[528.23,50],[527.65,30],[526.88,18],[525.92,12],[524.99,8]];
const fOL=[[531.68,2],[530.72,110],[530.58,190],[530.39,340],[530.19,540],[530,670],[529.86,700],[529.71,630],[529.57,470],[529.33,290],[529.14,170],[528.9,80],[528.61,20],[528.23,5],[527.08,2],[525.16,1]];
const fOV=[[532.64,2],[531.63,95],[531.39,140],[531.15,170],[530.96,178],[530.72,150],[530.48,105],[530.15,55],[529.67,25],[528.9,7],[527.84,1]];
const fOC=[[534.56,4],[533.79,20],[533.22,55],[532.74,100],[532.4,130],[532.16,135],[531.92,120],[531.59,85],[531.2,50],[530.72,25],[530.05,10],[529.19,3]];
const fRaw=[[536.05,5],[535.8,5],[535.5,10],[535.2,10],[534.9,18],[534.6,20],[534.3,28],[534,35],[533.7,45],[533.4,55],[533.1,75],[532.8,100],[532.6,130],[532.4,150],[532.2,185],[532,210],[531.8,225],[531.6,225],[531.3,250],[530.9,265],[530.6,340],[530.43,440],[530.24,575],[530,693],[529.52,647],[529.4,480],[529.19,305],[528.99,175],[528.85,93],[528.63,55],[528.42,30],[528.23,20],[528.03,12],[527.84,8],[527.6,3],[527.4,1],[527.2,0],[525.01,2]];

/* ---------- pie shares, clockwise from 12 o'clock ---------- */
const g1Values=[46,54];
const g2Values=[75,25];
const g3Values=[62,22,16];
const h1Values=[56,44];
const h2Values=[80,20];
const h3Values=[62,22,16];

const NS='http://www.w3.org/2000/svg';

function smoothPath(pts){
  let d='';
  for(let i=0;i<pts.length-1;i++){
    const p0=pts[Math.max(i-1,0)],p1=pts[i],p2=pts[i+1],p3=pts[Math.min(i+2,pts.length-1)];
    const c1=[p1[0]+(p2[0]-p0[0])/6,p1[1]+(p2[1]-p0[1])/6];
    const c2=[p2[0]-(p3[0]-p1[0])/6,p2[1]-(p3[1]-p1[1])/6];
    d+='C'+c1[0].toFixed(1)+','+c1[1].toFixed(1)+' '+c2[0].toFixed(1)+','+c2[1].toFixed(1)+' '+p2[0].toFixed(1)+','+p2[1].toFixed(1);
  }
  return d;
}

function drawPanel(id,g,ticks,peaks,fit,raw){
  const host=document.getElementById('marks-'+id);
  const xS=e=>g.x0+(e-g.e0)/(g.e1-g.e0)*(g.x1-g.x0);
  const yS=v=>g.base-v/g.imax*(g.base-g.top);
  peaks.forEach(pk=>{
    const pts=pk.data.map(d=>[xS(d[0]),yS(d[1])]);
    const p=document.createElementNS(NS,'path');
    
    
    const first=pts[0],last=pts[pts.length-1];
    p.setAttribute('d','M'+first[0].toFixed(1)+','+g.base+'L'+first[0].toFixed(1)+','+first[1].toFixed(1)+smoothPath(pts)+'L'+last[0].toFixed(1)+','+g.base+'Z');
    p.setAttribute('fill',pk.fill);
    if(pk.op)p.setAttribute('opacity',pk.op);
    host.appendChild(p);
  });
  raw.forEach(d=>{
    const c=document.createElementNS(NS,'circle');
    
    
    c.setAttribute('cx',xS(d[0]).toFixed(1));
    c.setAttribute('cy',yS(d[1]).toFixed(1));
    c.setAttribute('r',g.r);
    c.setAttribute('fill','none');
    c.setAttribute('stroke','#bdbdbd');
    c.setAttribute('stroke-width','3.2');
    host.appendChild(c);
  });
  const fp=fit.map(d=>[xS(d[0]),yS(d[1])]);
  const line=document.createElementNS(NS,'path');
  
  
  line.setAttribute('d','M'+fp[0][0].toFixed(1)+','+fp[0][1].toFixed(1)+smoothPath(fp));
  line.setAttribute('fill','none');
  line.setAttribute('stroke','#000');
  line.setAttribute('stroke-width',g.lw);
  line.setAttribute('stroke-linejoin','round');
  line.setAttribute('stroke-linecap','round');
  host.appendChild(line);
  ticks.forEach(t=>{
    const tk=document.createElementNS(NS,'line');
    
    
    tk.setAttribute('x1',xS(t));
    tk.setAttribute('x2',xS(t));
    tk.setAttribute('y1',g.bottom);
    tk.setAttribute('y2',g.bottom+g.tickLen);
    tk.setAttribute('stroke','#000');
    tk.setAttribute('stroke-width','7');
    tk.setAttribute('stroke-linecap','round');
    host.appendChild(tk);
    const tx=document.createElementNS(NS,'text');
    
    
    tx.setAttribute('class','tk');
    tx.setAttribute('x',xS(t));
    tx.setAttribute('y',g.labelY);
    tx.textContent=String(t);
    host.appendChild(tx);
  });
}

drawPanel('a',{e0:810,x0:231.5,e1:780,x1:909.9,base:912,top:34,imax:1167,bottom:912,tickLen:10,labelY:1017.5,r:11,lw:6.5},aTicks,
 [{data:aSat1,fill:'url(#gOlive)'},{data:aCo2Low,fill:'url(#gBrown)'},{data:aCo3Low,fill:'url(#gPurple)'},{data:aSat2,fill:'url(#gOlive)'},{data:aCo2High,fill:'url(#gBrown2)'},{data:aCo3High,fill:'url(#gBlue)'}],aFit,aRaw);
drawPanel('b',{e0:960,x0:1360.6,e1:930,x1:2086.6,base:924.2,top:45,imax:1168,bottom:929.4,tickLen:10,labelY:1037,r:11,lw:6.5},bTicks,
 [{data:bSat1,fill:'url(#gGrayL)'},{data:bCu2Low,fill:'url(#gLav)'},{data:bCu1Low,fill:'url(#gRose)'},{data:bSat2,fill:'url(#gGray)',op:.9},{data:bSat3,fill:'url(#gGray)',op:.85},{data:bCu2High,fill:'url(#gLavDeep)'},{data:bCu1High,fill:'url(#gMagenta)'}],bFit,bRaw);
drawPanel('c',{e0:536,x0:2305.6,e1:524,x1:3175.5,base:914.4,top:45,imax:1155,bottom:914.4,tickLen:41,labelY:1047.6,r:11.5,lw:8.5},cTicks,
 [{data:cOL,fill:'url(#gOLc)'},{data:cOV,fill:'#6db06d',op:.65},{data:cOC,fill:'#ad5f66',op:.85}],cFit,cRaw);
drawPanel('d',{e0:810,x0:233.6,e1:780,x1:923.2,base:2150.6,top:1273.9,imax:1165,bottom:2152,tickLen:10,labelY:2259.7,r:11,lw:6.5},dTicks,
 [{data:dSat1,fill:'url(#gOlive)'},{data:dCo2Low,fill:'#f86868'},{data:dCo3Low,fill:'url(#gNavy)'},{data:dSat2,fill:'url(#gOlive)'},{data:dCo2High,fill:'#f87070'},{data:dCo3High,fill:'url(#gNavy)'}],dFit,dRaw);
drawPanel('e',{e0:960,x0:1367.6,e1:930,x1:2111.2,base:2180.7,top:1277.6,imax:1200,bottom:2189.8,tickLen:10,labelY:2297.4,r:11,lw:6.5},eTicks,
 [{data:eSat1,fill:'url(#gGrayL)'},{data:eCu2Low,fill:'url(#gLav)'},{data:eCu1Low,fill:'url(#gRose)'},{data:eSat2,fill:'url(#gGray)',op:.9},{data:eSat3,fill:'url(#gGray)',op:.85},{data:eCu2High,fill:'url(#gLavDeep)'},{data:eCu1High,fill:'url(#gMagenta)'}],eFit,eRaw);
drawPanel('f',{e0:536,x0:2324,e1:526,x1:3090.9,base:2135.6,top:1289,imax:1125,bottom:2135.6,tickLen:37,labelY:2263.5,r:11.5,lw:8},fTicks,
 [{data:fOL,fill:'url(#gOLf)'},{data:fOV,fill:'#c6c690',op:.85},{data:fOC,fill:'#b46a70',op:.95}],fFit,fRaw);

function drawPie(clipId,g,values,tops,sides,rims){
  const host=document.getElementById('pies');
  const T=g.apex-g.top,B=g.bot-g.apex,r=B/T;
  const a=(r-1)/(r+1),b=T*(1+a),rx0=g.rx*Math.sqrt(1-a*a);
  const pt=th=>{const u=Math.sin(th),v=-Math.cos(th),w=1-a*v;return [g.cx+rx0*u/w,g.apex+b*v/w];};
  const total=values.reduce((s,v)=>s+v,0);
  const shadow=document.createElementNS(NS,'ellipse');
  
  
  shadow.setAttribute('cx',g.cx);
  shadow.setAttribute('cy',(g.top+g.bot)/2+g.depth+20);
  shadow.setAttribute('rx',g.rx-6);
  shadow.setAttribute('ry',(g.bot-g.top)/2);
  shadow.setAttribute('fill','#dedede');
  shadow.setAttribute('filter','url(#shadowBlur)');
  host.appendChild(shadow);
  const hull=[];
  for(let i=0;i<=180;i++){
    const th=i*2*Math.PI/180;
    const q=pt(th);
    hull.push(q[0].toFixed(1)+','+(-Math.cos(th)>a?q[1]+g.depth:q[1]).toFixed(1));
  }
  const clip=document.createElementNS(NS,'clipPath');
  clip.setAttribute('id',clipId);
  const clipShape=document.createElementNS(NS,'path');
  clipShape.setAttribute('d','M'+hull.join('L')+'Z');
  clip.appendChild(clipShape);
  host.appendChild(clip);
  const arcs=[];
  let acc=0;
  values.forEach(v=>{
    const t0=acc/total*2*Math.PI;
    acc+=v;
    const t1=acc/total*2*Math.PI;
    const n=Math.max(2,Math.ceil((t1-t0)/0.03));
    const list=[];
    for(let i=0;i<=n;i++){list.push(t0+(t1-t0)*i/n);}
    arcs.push(list);
  });
  arcs.forEach((list,i)=>{
    const up=list.map(pt);
    const s=document.createElementNS(NS,'path');
    
    
    let d='M'+up.map(q=>q[0].toFixed(1)+','+q[1].toFixed(1)).join('L');
    d+='L'+up.slice().reverse().map(q=>q[0].toFixed(1)+','+(q[1]+g.depth).toFixed(1)).join('L')+'Z';
    s.setAttribute('d',d);
    s.setAttribute('fill','url(#'+sides[i]+')');
    host.appendChild(s);
  });
  arcs.forEach((list,i)=>{
    const up=list.map(pt);
    const f=document.createElementNS(NS,'path');
    
    
    f.setAttribute('d','M'+g.cx+','+g.apex+'L'+up.map(q=>q[0].toFixed(1)+','+q[1].toFixed(1)).join('L')+'Z');
    f.setAttribute('fill',tops[i]);
    f.setAttribute('stroke',tops[i]);
    f.setAttribute('stroke-width','1');
    host.appendChild(f);
  });
  arcs.forEach((list,i)=>{
    const front=list.filter(t=>t>1.4&&t<4.9).map(pt);
    if(front.length<2)return;
    const rim=document.createElementNS(NS,'path');
    
    
    rim.setAttribute('d','M'+front.map(q=>q[0].toFixed(1)+','+(q[1]+2).toFixed(1)).join('L'));
    rim.setAttribute('fill','none');
    rim.setAttribute('stroke',rims[i]);
    rim.setAttribute('stroke-width','13');
    rim.setAttribute('filter','url(#soft)');
    rim.setAttribute('clip-path','url(#'+clipId+')');
    host.appendChild(rim);
  });
}

const coTops=['#4f81bd','#95b3dc'],coSides=['sideBlueDark','sideBlueLight'],coRims=['#5f97d4','#b4d6ff'];
const cuTops=['#e0a800','#fac97e'],cuSides=['sideGold','sideNone'],cuRims=['#f2bc14','#fac97e'];
const oTops=['#c46424','#e87a30','#eeb09a'],oSides=['sideCopper','sideOrange','sideNone'],oRims=['#d4742e','#f49040','#eeb09a'];

drawPie('clip-g1',{cx:628.8,top:2646,apex:2815,bot:3060,rx:436,depth:76},g1Values,coTops,coSides,coRims);
drawPie('clip-g2',{cx:1709,top:2647,apex:2811,bot:3072,rx:447,depth:79},g2Values,cuTops,cuSides,cuRims);
drawPie('clip-g3',{cx:2803.3,top:2646,apex:2812,bot:3076,rx:451,depth:75},g3Values,oTops,oSides,oRims);
drawPie('clip-h1',{cx:647,top:3280,apex:3441.7,bot:3699,rx:436.7,depth:72},h1Values,coTops,coSides,coRims);
drawPie('clip-h2',{cx:1730.6,top:3263,apex:3431,bot:3690,rx:449,depth:80},h2Values,cuTops,cuSides,cuRims);
drawPie('clip-h3',{cx:2834.7,top:3271.5,apex:3441.7,bot:3707,rx:456,depth:77},h3Values,oTops,oSides,oRims);
</script>
</body></html>
